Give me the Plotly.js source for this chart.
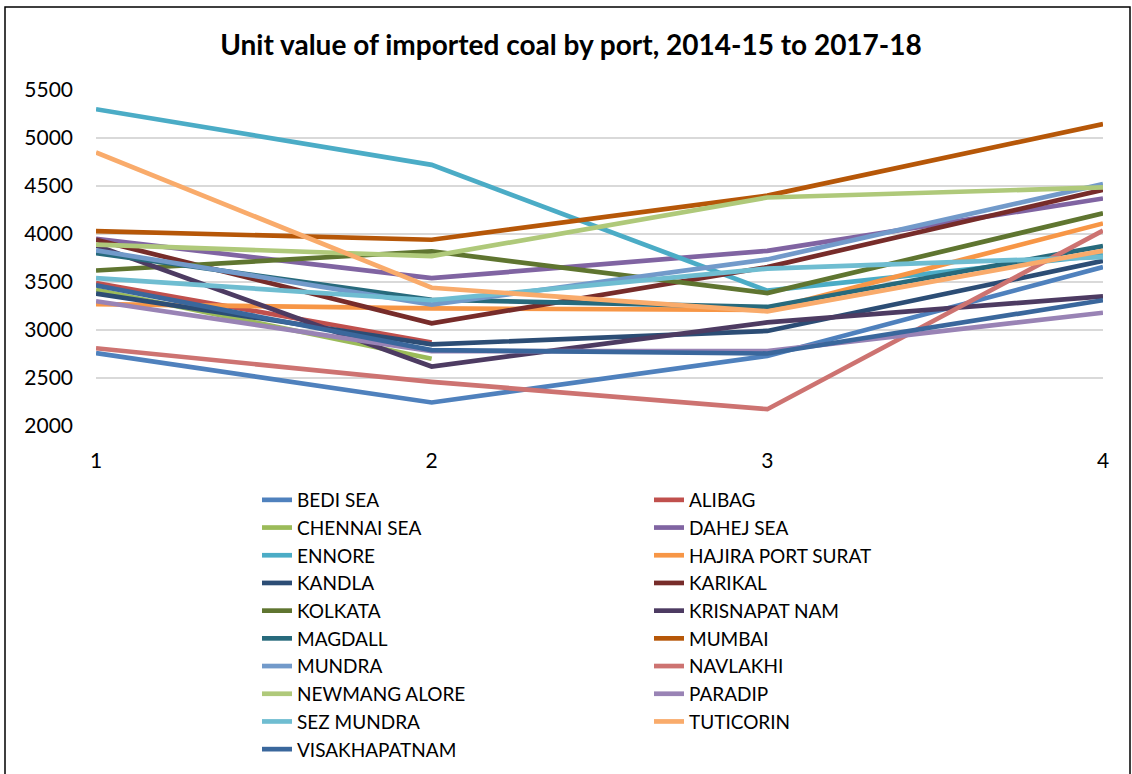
<!DOCTYPE html>
<html>
<head>
<meta charset="utf-8">
<script src="https://cdn.plot.ly/plotly-3.0.1.min.js"></script>
<style>html,body{margin:0;padding:0;background:#fff;}#chart{width:1132px;height:774px;}</style>
</head>
<body>
<div id="chart"></div>
<script>
const xValues = [1, 2, 3, 4];
const xTickLabels = ["1", "2", "3", "4"];

const bediSea      = [2760, 2245, 2730, 3655];
const alibag       = [3490, 2870, null, null];
const chennaiSea   = [3420, 2700, null, null];
const dahejSea     = [3950, 3540, 3825, 4370];
const ennore       = [5300, 4720, 3410, 3780];
const hajira       = [3270, 3225, 3210, 4110];
const kandla       = [3380, 2850, 2990, 3720];
const karikal      = [3940, 3070, 3655, 4460];
const kolkata      = [3620, 3820, 3385, 4215];
const krisnapatnam = [3880, 2620, 3080, 3350];
const magdall      = [3800, 3315, 3240, 3875];
const mumbai       = [4030, 3940, 4400, 5145];
const mundra       = [3830, 3265, 3735, 4520];
const navlakhi     = [2810, 2460, 2175, 4035];
const newmangalore = [3890, 3770, 4380, 4485];
const paradip      = [3300, 2780, 2780, 3180];
const sezMundra    = [3540, 3310, 3640, 3760];
const tuticorin    = [4850, 3440, 3195, 3825];
const visakhapatnam= [3465, 2790, 2755, 3310];

const seriesNames = ["BEDI SEA","ALIBAG","CHENNAI SEA","DAHEJ SEA","ENNORE","HAJIRA PORT SURAT",
  "KANDLA","KARIKAL","KOLKATA","KRISNAPAT NAM","MAGDALL","MUMBAI","MUNDRA","NAVLAKHI",
  "NEWMANG ALORE","PARADIP","SEZ MUNDRA","TUTICORIN","VISAKHAPATNAM"];
const seriesValues = [bediSea, alibag, chennaiSea, dahejSea, ennore, hajira, kandla, karikal,
  kolkata, krisnapatnam, magdall, mumbai, mundra, navlakhi, newmangalore, paradip, sezMundra,
  tuticorin, visakhapatnam];
const seriesColors = ["#4F81BD","#C0504D","#9BBB59","#8064A2","#4BACC6","#F79646",
  "#2C4D75","#772C2A","#5F7530","#4D3B62","#276A7C","#B65708","#729ACA","#CD7371",
  "#AFC97A","#9983B5","#6FBDD1","#F9AB6B","#3A679C"];

const FONT = "Lato, Carlito, Calibri, 'Liberation Sans', sans-serif";

const traces = seriesNames.map((name, i) => ({
  type: "scatter",
  mode: "lines",
  name: name,
  x: xValues,
  y: seriesValues[i],
  line: {color: seriesColors[i], width: 4.7},
  connectgaps: false,
  hoverinfo: "x+y+name"
}));

// plot area: x 96..1103, y 90..426
const W = 1132, H = 774, L = 96, R = 29, T = 90, B = 348;
const pw = W - L - R, ph = H - T - B;
const px2x = p => (p - L) / pw;
const px2y = q => (H - B - q) / ph;

const layout = {
  width: W, height: H,
  margin: {l: L, r: R, t: T, b: B, autoexpand: false},
  paper_bgcolor: "#ffffff",
  plot_bgcolor: "#ffffff",
  font: {family: FONT, color: "#000000", size: 19},
  title: {
    text: "<b>Unit value of imported coal by port, 2014-15 to 2017-18</b>",
    font: {family: FONT, size: 28, color: "#000000"},
    x: 571 / W, xanchor: "center", xref: "container",
    y: 1 - 45 / H, yanchor: "middle", yref: "container"
  },
  xaxis: {
    range: [1, 4],
    tickvals: xValues,
    ticktext: xTickLabels,
    showgrid: false,
    zeroline: false,
    showline: false,
    ticks: "",
    ticklabelstandoff: 20,
    tickfont: {family: FONT, size: 21, color: "#000"}
  },
  yaxis: {
    range: [2000, 5500],
    tickvals: [2000, 2500, 3000, 3500, 4000, 4500, 5000, 5500],
    showgrid: true,
    gridcolor: "#D9D9D9",
    gridwidth: 2,
    zeroline: false,
    showline: false,
    ticks: "",
    ticklabelstandoff: 22,
    tickfont: {family: FONT, size: 21, color: "#000"}
  },
  showlegend: true,
  legend: {
    orientation: "h",
    x: px2x(257), xanchor: "left",
    y: px2y(481), yanchor: "top",
    entrywidth: 347,
    entrywidthmode: "pixels",
    traceorder: "normal",
    font: {family: FONT, size: 19, color: "#000"},
    bgcolor: "rgba(0,0,0,0)"
  },
  shapes: [{
    type: "rect", xref: "paper", yref: "paper",
    x0: px2x(5), x1: px2x(1130), y0: px2y(820), y1: px2y(7),
    line: {color: "#000000", width: 1.5}, fillcolor: "rgba(0,0,0,0)", layer: "below"
  }]
};

Plotly.newPlot("chart", traces, layout, {displayModeBar: false, staticPlot: true});
</script>
</body>
</html>
